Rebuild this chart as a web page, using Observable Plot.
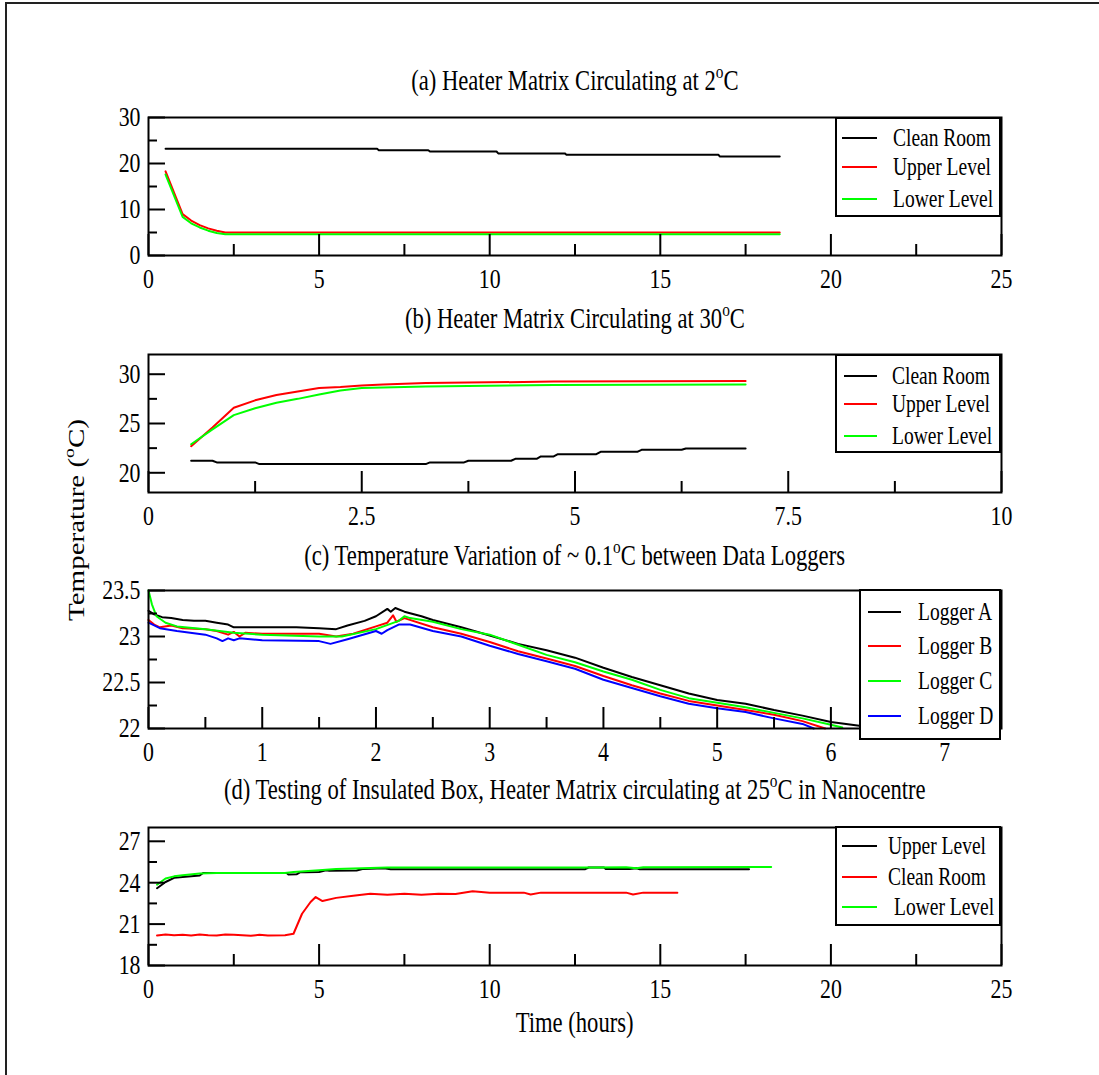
<!DOCTYPE html>
<html><head><meta charset="utf-8">
<script src="https://cdn.jsdelivr.net/npm/d3@7"></script>
<script src="https://cdn.jsdelivr.net/npm/@observablehq/plot@0.6"></script>
<style>
html,body{margin:0;padding:0;background:#fff;overflow:hidden;}
#page{position:relative;width:1099px;height:1075px;font-family:"Liberation Serif","Times New Roman",serif;color:#000;overflow:hidden;}
.abs{position:absolute;}
.sq{display:inline-block;transform:scaleX(0.78);white-space:nowrap;}
sup{font-size:0.68em;line-height:0;vertical-align:0.62em;}
</style></head><body><div id="page"></div>
<script>
// ---------- DATA ----------
// (a) Heater Matrix Circulating at 2 C
const aXTicks = [0, 5, 10, 15, 20, 25];
const aXMinor = [2.5, 7.5, 12.5, 17.5, 22.5];
const aYTicks = [0, 10, 20, 30];
const aYMinor = [5, 15, 25];
const aCleanRoom = [[0.5,23.2],[6.7,23.2],[6.75,22.9],[8.2,22.9],[8.25,22.6],[10.2,22.6],[10.25,22.2],[12.2,22.2],[12.25,21.9],[16.7,21.9],[16.75,21.5],[18.5,21.5]];
const aUpper = [[0.5,18.3],[1.0,9.0],[1.25,7.6],[1.5,6.6],[1.75,5.9],[2.0,5.4],[2.25,5.0],[18.5,5.0]];
const aLower = [[0.5,17.6],[1.0,8.4],[1.25,7.0],[1.5,6.1],[1.75,5.4],[2.0,4.9],[2.25,4.6],[18.5,4.6]];
const aNames = ["Clean Room", "Upper Level", "Lower Level"];

// (b) Heater Matrix Circulating at 30 C
const bXTicks = [0, 2.5, 5, 7.5, 10];
const bXMinor = [1.25, 3.75, 6.25, 8.75];
const bYTicks = [20, 25, 30];
const bYMinor = [22.5, 27.5];
const bCleanRoom = [[0.5,21.22],[0.75,21.22],[0.8,21.05],[1.25,21.05],[1.3,20.88],[3.25,20.88],[3.3,21.05],[3.7,21.05],[3.75,21.22],[4.25,21.22],[4.3,21.42],[4.55,21.42],[4.6,21.66],[4.75,21.66],[4.8,21.89],[5.25,21.89],[5.3,22.13],[5.73,22.13],[5.78,22.33],[6.25,22.33],[6.3,22.47],[7.0,22.47]];
const bUpper = [[0.5,22.7],[0.75,24.6],[1.0,26.6],[1.25,27.35],[1.5,27.9],[1.75,28.25],[2.0,28.6],[2.25,28.7],[2.5,28.85],[2.75,28.95],[3.25,29.1],[4.75,29.25],[7.0,29.3]];
const bLower = [[0.5,22.9],[0.75,24.4],[1.0,25.85],[1.25,26.55],[1.5,27.1],[1.75,27.5],[2.0,27.95],[2.25,28.35],[2.5,28.6],[3.25,28.75],[4.75,28.9],[7.0,28.95]];
const bNames = ["Clean Room", "Upper Level", "Lower Level"];

// (c) Temperature Variation of ~0.1 C between Data Loggers
const cXTicks = [0, 1, 2, 3, 4, 5, 6, 7];
const cXMinor = [0.5, 1.5, 2.5, 3.5, 4.5, 5.5, 6.5];
const cYTicks = [22, 22.5, 23, 23.5];
const cYMinor = [22.25, 22.75, 23.25];
const loggerA = [[0,23.28],[0.05,23.24],[0.12,23.21],[0.2,23.2],[0.3,23.18],[0.4,23.17],[0.5,23.17],[0.6,23.15],[0.7,23.13],[0.75,23.1],[1.0,23.1],[1.3,23.1],[1.5,23.09],[1.65,23.08],[1.75,23.12],[1.9,23.17],[2.0,23.22],[2.1,23.3],[2.13,23.27],[2.17,23.31],[2.25,23.27],[2.4,23.22],[2.5,23.18],[2.75,23.1],[3.0,23.01],[3.25,22.92],[3.5,22.85],[3.75,22.77],[4.0,22.66],[4.25,22.56],[4.5,22.47],[4.75,22.38],[5.0,22.31],[5.25,22.27],[5.5,22.2],[5.75,22.14],[6.0,22.07],[6.25,22.03]];
const loggerB = [[0,23.18],[0.05,23.13],[0.1,23.1],[0.2,23.12],[0.3,23.09],[0.5,23.08],[0.6,23.06],[0.7,23.02],[0.75,23.05],[0.8,23.0],[0.85,23.04],[1.0,23.03],[1.5,23.03],[1.65,23.0],[1.8,23.03],[2.0,23.11],[2.1,23.15],[2.15,23.23],[2.18,23.16],[2.25,23.2],[2.5,23.1],[2.75,23.03],[3.0,22.94],[3.25,22.84],[3.5,22.76],[3.75,22.68],[4.0,22.57],[4.25,22.47],[4.5,22.38],[4.75,22.3],[5.0,22.25],[5.25,22.2],[5.5,22.15],[5.75,22.08],[5.95,22.0]];
const loggerC = [[0,23.5],[0.03,23.35],[0.07,23.22],[0.15,23.15],[0.25,23.11],[0.5,23.08],[0.75,23.04],[1.0,23.02],[1.5,23.0],[1.7,23.0],[2.0,23.08],[2.2,23.17],[2.25,23.22],[2.3,23.2],[2.5,23.16],[2.75,23.08],[3.0,23.02],[3.25,22.91],[3.5,22.8],[3.75,22.72],[4.0,22.62],[4.25,22.53],[4.5,22.42],[4.75,22.33],[5.0,22.28],[5.25,22.23],[5.5,22.17],[5.75,22.11],[6.0,22.04],[6.1,22.01]];
const loggerD = [[0,23.15],[0.1,23.09],[0.25,23.06],[0.5,23.02],[0.6,22.98],[0.65,22.95],[0.7,22.98],[0.75,22.96],[0.8,22.98],[1.0,22.96],[1.5,22.95],[1.6,22.92],[1.75,22.97],[2.0,23.06],[2.05,23.03],[2.1,23.07],[2.2,23.13],[2.3,23.13],[2.5,23.06],[2.75,23.0],[3.0,22.9],[3.25,22.81],[3.5,22.73],[3.75,22.65],[4.0,22.53],[4.25,22.44],[4.5,22.35],[4.75,22.27],[5.0,22.22],[5.25,22.18],[5.5,22.11],[5.75,22.05],[5.85,22.0]];
const cNames = ["Logger A", "Logger B", "Logger C", "Logger D"];

// (d) Testing of Insulated Box, Heater Matrix circulating at 25 C in Nanocentre
const dXTicks = [0, 5, 10, 15, 20, 25];
const dXMinor = [2.5, 7.5, 12.5, 17.5, 22.5];
const dYTicks = [18, 21, 24, 27];
const dYMinor = [19.5, 22.5, 25.5];
const dUpper = [[0.25,23.6],[0.5,24.05],[0.75,24.35],[1.0,24.42],[1.5,24.52],[1.6,24.7],[4.05,24.7],[4.1,24.6],[4.35,24.62],[4.45,24.77],[4.6,24.75],[5.0,24.78],[5.2,24.9],[5.3,24.86],[6.1,24.88],[6.3,25.0],[6.9,25.05],[7.1,24.98],[12.8,24.98],[12.9,25.1],[13.35,25.1],[13.4,25.0],[14.1,25.0],[14.3,25.05],[14.4,24.98],[17.6,24.98]];
const dCleanRoom = [[0.25,20.18],[0.5,20.25],[0.75,20.2],[1.0,20.22],[1.25,20.18],[1.5,20.25],[1.75,20.2],[2.0,20.18],[2.25,20.25],[2.5,20.22],[3.0,20.15],[3.25,20.22],[3.5,20.18],[4.0,20.2],[4.25,20.3],[4.5,21.75],[4.75,22.6],[4.9,22.96],[5.1,22.67],[5.5,22.9],[6.0,23.05],[6.5,23.2],[7.0,23.12],[7.5,23.2],[8.0,23.12],[8.5,23.2],[9.0,23.18],[9.5,23.38],[10.0,23.28],[11.0,23.28],[11.2,23.15],[11.5,23.28],[14.0,23.28],[14.2,23.15],[14.5,23.28],[15.5,23.28]];
const dLower = [[0.25,23.85],[0.5,24.3],[0.75,24.46],[1.0,24.54],[1.5,24.66],[2.0,24.7],[4.0,24.7],[4.25,24.78],[5.0,24.9],[5.5,25.0],[7.0,25.1],[13.0,25.1],[14.0,25.12],[14.3,25.05],[14.5,25.12],[18.25,25.14]];
const dNames = ["Upper Level", "Clean Room", "Lower Level"];

// ---------- RENDER ----------
const page = document.getElementById("page");
const W = 1099, ML = 148, MR = 98, MT = 8, MB = 52, IH = 138, IW = W - ML - MR;
const FONT = '"Liberation Serif", "Times New Roman", serif';
const SQ = 0.78;

// condense svg texts horizontally around their own anchor (keeps position)
function squash(svg) {
  svg.querySelectorAll("text").forEach(t => {
    const xa = t.getAttribute("x");
    let pre = "";
    if (xa !== null && xa !== "" && !isNaN(+xa)) { pre = `translate(${+xa},0)`; t.removeAttribute("x"); }
    const tr = t.getAttribute("transform") || "";
    t.setAttribute("transform", `${tr} ${pre} scale(${SQ},1)`.trim());
  });
}

function panel({top, xDomain, yDomain, xTicks, xMinor, yTicks, yMinor, series}) {
  const svg = Plot.plot({
    width: W, height: IH + MT + MB,
    marginLeft: ML, marginRight: MR, marginTop: MT, marginBottom: MB,
    style: {fontFamily: FONT, fontSize: "28px", background: "transparent", color: "black", overflow: "visible"},
    x: {domain: xDomain, ticks: xTicks, tickSize: 0, tickPadding: 13, tickFormat: d => String(d), label: null},
    y: {domain: yDomain, ticks: yTicks, tickSize: 0, tickPadding: 8, tickFormat: d => String(d), label: null},
    marks: [
      ...series.map(s => Plot.line(s.data, {x: d => d[0], y: d => d[1], stroke: s.color, strokeWidth: 2})),
      Plot.ruleX(xTicks, {x: d => d, insetTop: IH - 21, stroke: "black", strokeWidth: 2}),
      Plot.ruleX(xMinor, {x: d => d, insetTop: IH - 11, stroke: "black", strokeWidth: 2}),
      Plot.ruleY(yTicks, {y: d => d, insetRight: IW - 17, stroke: "black", strokeWidth: 2}),
      Plot.ruleY(yMinor, {y: d => d, insetRight: IW - 9, stroke: "black", strokeWidth: 2}),
      Plot.frame({stroke: "black", strokeWidth: 2})
    ]
  });
  squash(svg);
  svg.style.position = "absolute";
  svg.style.left = "0px";
  svg.style.top = (top - MT) + "px";
  page.appendChild(svg);
}

function textDiv(html, cx, cy, size, extra = "") {
  const d = document.createElement("div");
  d.className = "abs";
  d.style.cssText = `left:${cx - 500}px;width:1000px;top:${cy - size / 2}px;height:${size}px;line-height:${size}px;font-size:${size}px;text-align:center;${extra}`;
  d.innerHTML = `<span class="sq">${html}</span>`;
  page.appendChild(d);
  return d;
}

function legend({left, top, right, bottom, names, colors, ys, sw1, sw2, tx, txOffsets}) {
  const box = document.createElement("div");
  box.className = "abs";
  box.style.cssText = `left:${left}px;top:${top}px;width:${right - left}px;height:${bottom - top}px;border:2px solid #000;background:#fff;box-sizing:border-box;`;
  page.appendChild(box);
  names.forEach((n, i) => {
    const s = document.createElement("div");
    s.className = "abs";
    s.style.cssText = `left:${sw1}px;width:${sw2 - sw1}px;top:${ys[i] - 1}px;height:2px;background:${colors[i]};`;
    page.appendChild(s);
    const t = document.createElement("div");
    t.className = "abs";
    const off = txOffsets ? txOffsets[i] : 0;
    t.style.cssText = `left:${tx + off}px;top:${ys[i] - 15}px;height:30px;line-height:30px;font-size:25px;white-space:nowrap;`;
    t.innerHTML = `<span class="sq" style="transform-origin:left center">${n}</span>`;
    page.appendChild(t);
  });
}

const BLACK = "#000000", RED = "#ff0000", GREEN = "#00ff00", BLUE = "#0000ff";

panel({top: 117, xDomain: [0, 25], yDomain: [0, 30], xTicks: aXTicks, xMinor: aXMinor, yTicks: aYTicks, yMinor: aYMinor,
  series: [{data: aCleanRoom, color: BLACK}, {data: aUpper, color: RED}, {data: aLower, color: GREEN}]});
panel({top: 354, xDomain: [0, 10], yDomain: [18, 32], xTicks: bXTicks, xMinor: bXMinor, yTicks: bYTicks, yMinor: bYMinor,
  series: [{data: bCleanRoom, color: BLACK}, {data: bUpper, color: RED}, {data: bLower, color: GREEN}]});
panel({top: 589.5, xDomain: [0, 7.5], yDomain: [22, 23.5], xTicks: cXTicks, xMinor: cXMinor, yTicks: cYTicks, yMinor: cYMinor,
  series: [{data: loggerA, color: BLACK}, {data: loggerB, color: RED}, {data: loggerC, color: GREEN}, {data: loggerD, color: BLUE}]});
panel({top: 826.5, xDomain: [0, 25], yDomain: [18, 28], xTicks: dXTicks, xMinor: dXMinor, yTicks: dYTicks, yMinor: dYMinor,
  series: [{data: dUpper, color: BLACK}, {data: dCleanRoom, color: RED}, {data: dLower, color: GREEN}]});

// Titles
textDiv("(a) Heater Matrix Circulating at 2<sup>o</sup>C", 575, 80, 29);
textDiv("(b) Heater Matrix Circulating at 30<sup>o</sup>C", 575, 318, 29);
textDiv("(c) Temperature Variation of ~ 0.1<sup>o</sup>C between Data Loggers", 575, 555, 29);
textDiv("(d) Testing of Insulated Box, Heater Matrix circulating at 25<sup>o</sup>C in Nanocentre", 575, 789, 29);
textDiv("Time (hours)", 575, 1022, 29);

// Y axis label (rotated)
const yl = document.createElement("div");
yl.className = "abs";
yl.style.cssText = `left:${76 - 150}px;width:300px;top:${520 - 15}px;height:30px;line-height:30px;font-size:29px;text-align:center;transform:scaleX(${SQ}) rotate(-90deg);transform-origin:center;white-space:nowrap;`;
yl.innerHTML = "Temperature (<sup>o</sup>C)";
page.appendChild(yl);

// Legends
legend({left: 835, top: 117, right: 1001, bottom: 217, names: aNames, colors: [BLACK, RED, GREEN], ys: [138, 167, 199], sw1: 842, sw2: 877, tx: 893});
legend({left: 835, top: 354, right: 1001, bottom: 453, names: bNames, colors: [BLACK, RED, GREEN], ys: [376, 404, 436], sw1: 844, sw2: 877, tx: 892});
legend({left: 859, top: 589, right: 1001, bottom: 740, names: cNames, colors: [BLACK, RED, GREEN, BLUE], ys: [612, 646, 681, 716], sw1: 868, sw2: 901, tx: 918});
legend({left: 835, top: 826, right: 1001, bottom: 926, names: dNames, colors: [BLACK, RED, GREEN], ys: [846, 877, 907], sw1: 842, sw2: 877, tx: 888, txOffsets: [0, 0, 6]});

// Page border
const border = document.createElement("div");
border.className = "abs";
border.style.cssText = "left:5px;top:2px;width:1094px;height:1073px;border-top:2px solid #222;border-left:2px solid #222;box-sizing:border-box;";
page.appendChild(border);
</script></body></html>
